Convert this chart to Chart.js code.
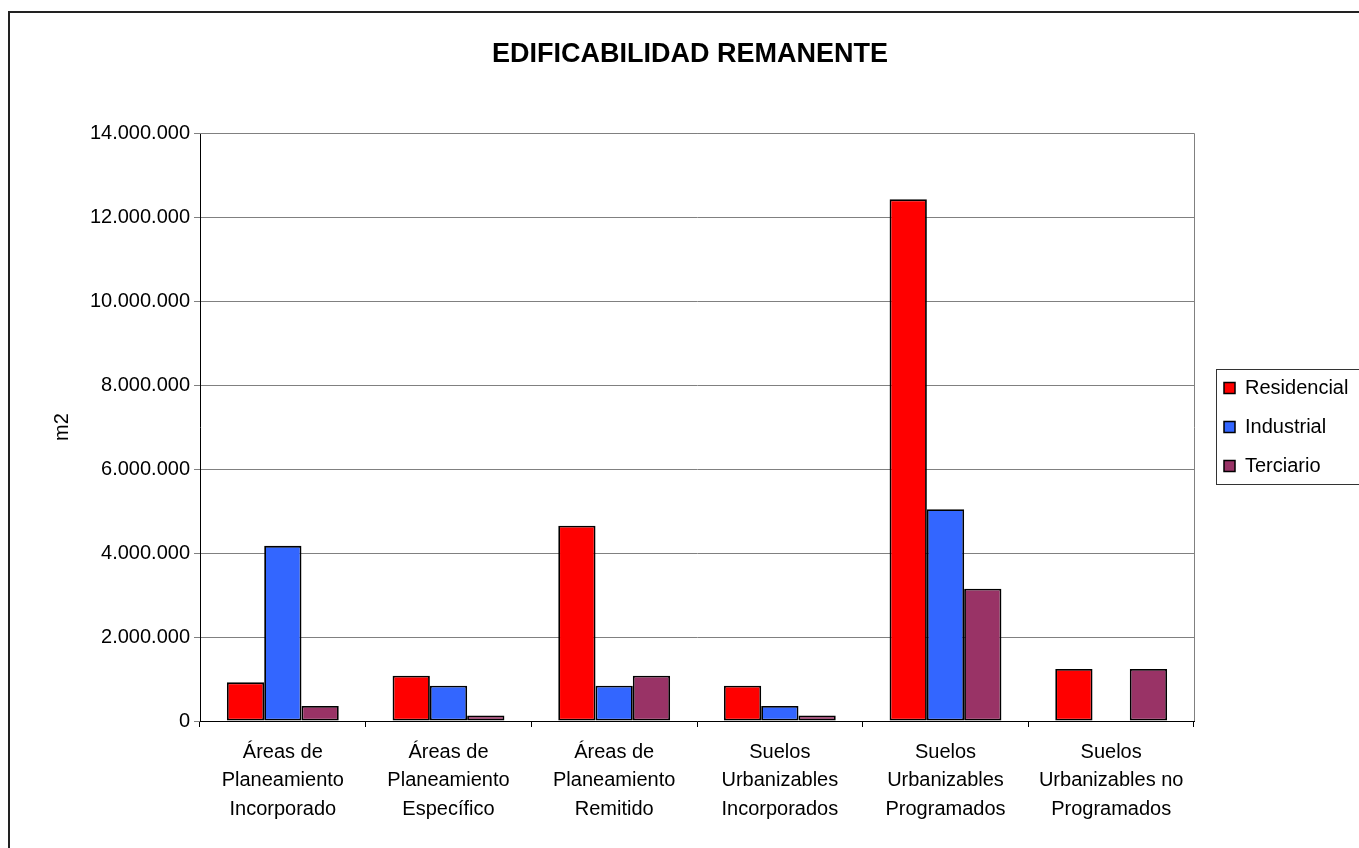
<!DOCTYPE html>
<html>
<head>
<meta charset="utf-8">
<script src="https://cdn.jsdelivr.net/npm/chart.js@4.4.1/dist/chart.umd.min.js"></script>
<style>
html,body{margin:0;padding:0;background:#fff;}
#wrap{width:1359px;height:848px;position:relative;}
</style>
</head>
<body>
<div id="wrap"><canvas id="c" width="1359" height="848"></canvas></div>
<script>
const categories = [
  ["Áreas de", "Planeamiento", "Incorporado"],
  ["Áreas de", "Planeamiento", "Específico"],
  ["Áreas de", "Planeamiento", "Remitido"],
  ["Suelos", "Urbanizables", "Incorporados"],
  ["Suelos", "Urbanizables", "Programados"],
  ["Suelos", "Urbanizables no", "Programados"]
];
const residencial = [920000, 1080000, 4650000, 840000, 12420000, 1240000];
const industrial  = [4170000, 840000, 840000, 360000, 5040000, 0];
const terciario   = [360000, 130000, 1080000, 130000, 3150000, 1240000];
const seriesNames = ["Residencial", "Industrial", "Terciario"];
const seriesColors = ["#FF0000", "#3366FF", "#993366"];
const titleText = "EDIFICABILIDAD REMANENTE";
const yAxisTitle = "m2";
const yMax = 14000000;
const yStep = 2000000;

const FONT = "'Liberation Sans', Arial, sans-serif";

function fmt(v){
  return String(Math.round(v)).replace(/\B(?=(\d{3})+(?!\d))/g, ".");
}

const decorPlugin = {
  id: 'decor',
  afterDraw(chart){
    const ctx = chart.ctx;
    const ca = chart.chartArea;
    ctx.save();
    // outer border
    ctx.strokeStyle = '#222';
    ctx.lineWidth = 2;
    ctx.strokeRect(9, 12, 1400, 900);
    // plot frame top & right
    ctx.strokeStyle = '#808080';
    ctx.lineWidth = 1;
    ctx.beginPath();
    ctx.moveTo(ca.left, ca.top + 0.5);
    ctx.lineTo(ca.right + 0.5, ca.top + 0.5);
    ctx.lineTo(ca.right + 0.5, ca.bottom);
    ctx.stroke();
    // title
    ctx.fillStyle = '#000';
    ctx.font = "bold 27px " + FONT;
    ctx.textAlign = 'center';
    ctx.textBaseline = 'middle';
    ctx.fillText(titleText, 690, 55);
    // y axis title
    ctx.save();
    ctx.translate(62, 427);
    ctx.rotate(-Math.PI/2);
    ctx.font = "20px " + FONT;
    ctx.fillText(yAxisTitle, 0, 0);
    ctx.restore();
    // legend
    ctx.strokeStyle = '#333';
    ctx.lineWidth = 1;
    ctx.strokeRect(1216.5, 369.5, 150, 115);
    ctx.font = "20px " + FONT;
    ctx.textAlign = 'left';
    ctx.textBaseline = 'middle';
    chart.data.datasets.forEach((ds, i) => {
      const y = 388 + i * 39;
      ctx.fillStyle = ds.backgroundColor;
      ctx.fillRect(1224, y - 5.5, 11, 11);
      ctx.strokeStyle = '#000';
      ctx.lineWidth = 1.5;
      ctx.strokeRect(1224, y - 5.5, 11, 11);
      ctx.fillStyle = '#000';
      ctx.fillText(ds.label, 1245, y);
    });
    ctx.restore();
  }
};

new Chart(document.getElementById('c'), {
  type: 'bar',
  data: {
    labels: categories,
    datasets: [
      { label: seriesNames[0], data: residencial, backgroundColor: seriesColors[0] },
      { label: seriesNames[1], data: industrial,  backgroundColor: seriesColors[1] },
      { label: seriesNames[2], data: terciario,   backgroundColor: seriesColors[2] }
    ].map(d => Object.assign(d, { borderColor: '#000', borderWidth: 1.8, borderSkipped: false,
      categoryPercentage: 0.675, barPercentage: 1.0 }))
  },
  options: {
    responsive: false,
    animation: false,
    devicePixelRatio: 1,
    layout: { padding: { left: 0, top: 133, right: 165, bottom: 0 } },
    plugins: { legend: { display: false }, title: { display: false }, tooltip: { enabled: false } },
    scales: {
      x: {
        grid: { drawOnChartArea: false, color: '#000', tickLength: 6, offset: true },
        border: { color: '#000', width: 1 },
        ticks: { color: '#000', font: { family: FONT, size: 20, lineHeight: 1.42 }, padding: 11, maxRotation: 0, autoSkip: false },
        afterFit(s){ s.height = 127; }
      },
      y: {
        min: 0, max: yMax,
        grid: { color: '#808080', tickLength: 6 },
        border: { color: '#000', width: 1 },
        ticks: { stepSize: yStep, color: '#000', font: { family: FONT, size: 20 }, padding: 4,
          callback: v => fmt(v) },
        afterFit(s){ s.width = 200; }
      }
    }
  },
  plugins: [decorPlugin]
});
</script>
</body>
</html>
